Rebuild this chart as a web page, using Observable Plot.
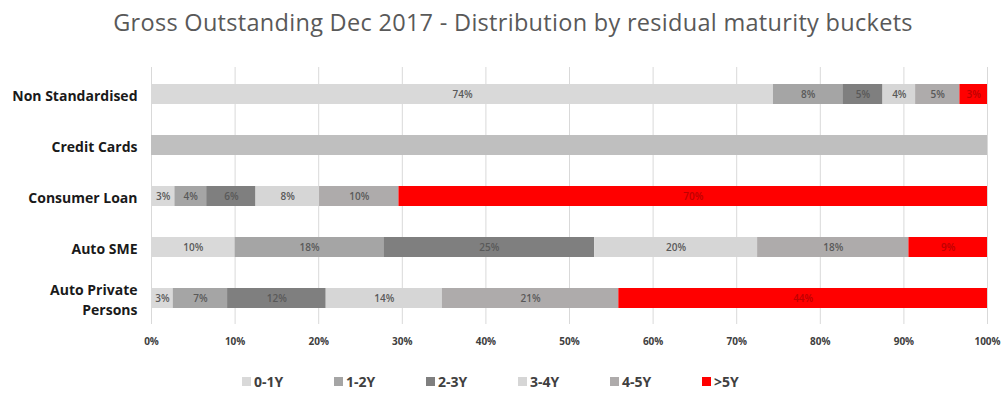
<!DOCTYPE html>
<html>
<head>
<meta charset="utf-8">
<script src="https://cdn.jsdelivr.net/npm/d3@7"></script>
<script src="https://cdn.jsdelivr.net/npm/@observablehq/plot@0.6"></script>
<style>
  html, body { margin: 0; padding: 0; background: #fff; }
  body { width: 1006px; height: 398px; overflow: hidden; font-family: "Open Sans", sans-serif; }
  #title { height: 45px; line-height: 44px; text-align: center; font-size: 23.5px; letter-spacing: 0.3px; color: #595959; padding-left: 20px; }
  #chart svg { display: block; }
  #legend { position: relative; height: 44px; }
  .item { position: absolute; top: 18px; display: flex; align-items: center; font-weight: 700; font-size: 14px; color: #404040; font-family: "Open Sans", sans-serif; }
  .sw { width: 9px; height: 9px; margin-right: 3px; }
</style>
</head>
<body>
<div id="title">Gross Outstanding Dec 2017 - Distribution by residual maturity buckets</div>
<div id="chart"></div>
<div id="legend"></div>
<script>
const categories = ["Non Standardised", "Credit Cards", "Consumer Loan", "Auto SME", "Auto Private Persons"];
const buckets = ["0-1Y", "1-2Y", "2-3Y", "3-4Y", "4-5Y", ">5Y"];
const colors = ["#D9D9D9", "#A5A5A5", "#7F7F7F", "#D6D6D6", "#AEABAB", "#FF0000"];
const creditCardColor = "#BFBFBF";
const nonStandardised = [74.4, 8.3, 4.8, 3.9, 5.3, 3.3];
const creditCards = [100, 0, 0, 0, 0, 0];
const consumerLoan = [2.8, 3.8, 5.9, 7.6, 9.5, 70.4];
const autoSME = [10.0, 17.8, 25.2, 19.5, 18.1, 9.4];
const autoPrivatePersons = [2.6, 6.5, 11.8, 13.9, 21.1, 44.1];
const showLabels = [true, false, true, true, true];
const xTicks = [0, 10, 20, 30, 40, 50, 60, 70, 80, 90, 100];

const series = [nonStandardised, creditCards, consumerLoan, autoSME, autoPrivatePersons];
const data = [];
categories.forEach((c, i) => {
  buckets.forEach((b, j) => {
    const v = series[i][j];
    if (v > 0) data.push({cat: c, bucket: b, value: v, label: showLabels[i] ? Math.round(v) + "%" : "", ci: i});
  });
});
const mainData = data.filter(d => d.ci !== 1);
const ccData = data.filter(d => d.ci === 1);

const plot = Plot.plot({
  width: 1006,
  height: 309,
  marginTop: 22,
  marginBottom: 30,
  marginLeft: 151,
  marginRight: 19,
  style: {fontFamily: "Open Sans, sans-serif", background: "#fff"},
  x: {domain: [0, 100], ticks: xTicks, label: null},
  y: {domain: categories, paddingInner: 0.61, paddingOuter: 0.305, label: null},
  color: {domain: buckets, range: colors},
  marks: [
    Plot.ruleX(xTicks, {stroke: "#D9D9D9", strokeWidth: 1}),
    Plot.barX(mainData, Plot.stackX({x: "value", y: "cat", fill: "bucket"})),
    Plot.barX(ccData, Plot.stackX({x: "value", y: "cat", fill: creditCardColor})),
    Plot.text(mainData, Plot.stackX({x: "value", y: "cat", text: "label", fill: d => d.bucket === ">5Y" ? "#C00000" : "#595959", fontSize: 10, fontWeight: 600})),
    Plot.axisX({ticks: xTicks, tickFormat: d => d + "%", tickSize: 0, tickPadding: 13, fontSize: 10, fontWeight: 700, fill: "#404040", label: null}),
    Plot.axisY({tickSize: 0, tickPadding: 14, fontSize: 14, fontWeight: 700, fill: "#1a1a1a", label: null, tickFormat: d => d.replace("Private Persons", "Private\nPersons"), lineHeight: 1.4})
  ]
});
document.getElementById("chart").appendChild(plot);

const lg = document.getElementById("legend");
buckets.forEach((b, i) => {
  const it = document.createElement("div");
  it.className = "item";
  it.style.left = (242 + i * 92) + "px";
  const sw = document.createElement("span");
  sw.className = "sw";
  sw.style.background = colors[i];
  const t = document.createElement("span");
  t.textContent = b;
  it.appendChild(sw); it.appendChild(t);
  lg.appendChild(it);
});
</script>
</body>
</html>
